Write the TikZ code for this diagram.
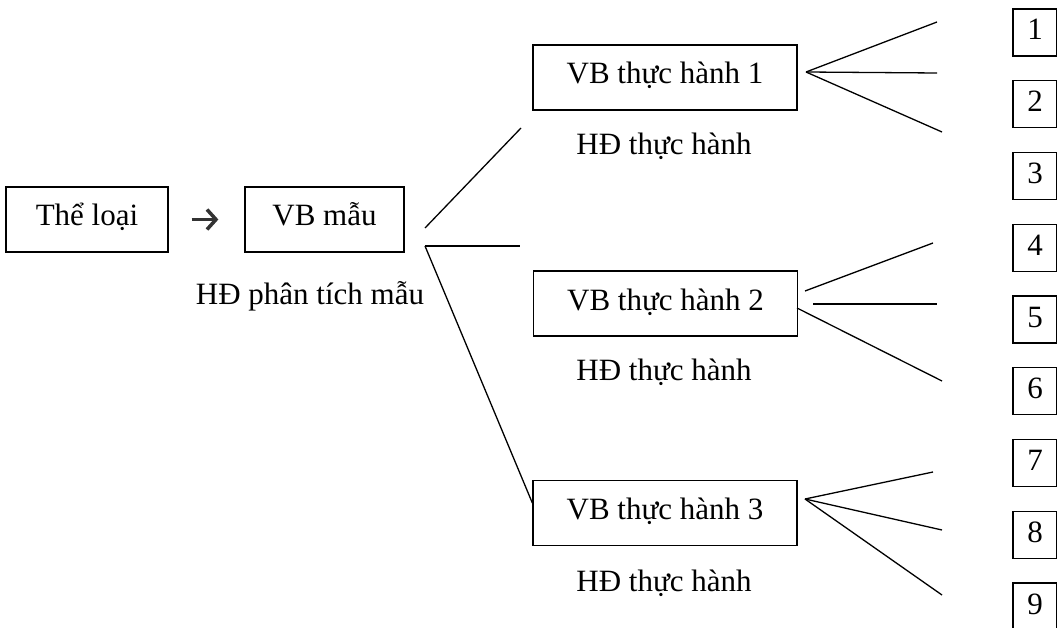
\documentclass[tikz,border=0pt]{standalone}
\usepackage{fontspec}
\setmainfont{Liberation Serif}
\usetikzlibrary{arrows.meta}

\begin{document}
\begin{tikzpicture}[x=1pt,y=-1pt,line width=1.3pt,
        font=\fontsize{31}{37}\selectfont,
        box/.style={draw,minimum height=65pt,inner sep=0pt,text height=21pt,text depth=8pt},
        numbox/.style={draw,minimum width=44pt,minimum height=47pt,inner sep=0pt,text height=21pt,text depth=6pt},
        lbl/.style={anchor=base,inner sep=0pt}]
        \useasboundingbox (0,0) rectangle (1057,628);

        \node[box,minimum width=162pt] (theloai) at (87,219.5) {Thể loại};
        \node[box,minimum width=159pt] (vbmau) at (324.5,219.5) {VB mẫu};
        \node[lbl] (hdmau) at (310,304) {HĐ phân tích mẫu};
        \draw[black!80,line width=3.5pt,-{Straight Barb[length=9pt,width=20pt,line width=3.5pt]},shorten <=23pt,shorten >=26pt] (theloai) -- (vbmau);

        \node[box,minimum width=264pt] (vb1) at (665,77.5) {VB thực hành 1};
        \node[lbl] (hd1) at (664,155) {HĐ thực hành};
        \node[box,minimum width=264pt] (vb2) at (665.5,303.5) {VB thực hành 2};
        \node[lbl] (hd2) at (664,380) {HĐ thực hành};
        \node[box,minimum width=264pt] (vb3) at (665,513) {VB thực hành 3};
        \node[lbl] (hd3) at (664,591) {HĐ thực hành};

        % nhanh tu VB mau
        \coordinate (m1) at (425,228);
        \coordinate (m2) at (425,246);
        \coordinate (t1) at (521,128);
        \coordinate (t2) at (520,246);
        \draw (m1) -- (t1);
        \draw (m2) -- (t2);
        \draw (m2) -- ([yshift=10pt]vb3.west);

        \node[numbox] (n1) at (1035,32.5) {1};
        \node[numbox] (n2) at (1035,104.25) {2};
        \node[numbox] (n3) at (1035,176) {3};
        \node[numbox] (n4) at (1035,247.75) {4};
        \node[numbox] (n5) at (1035,319.5) {5};
        \node[numbox] (n6) at (1035,391.25) {6};
        \node[numbox] (n7) at (1035,463) {7};
        \node[numbox] (n8) at (1035,534.75) {8};
        \node[numbox] (n9) at (1035,606.5) {9};

        % VB thuc hanh 1
        \coordinate (s1) at (806,72);
        \coordinate (e1) at (937,22);
        \coordinate (e2) at (937,73);
        \coordinate (e3) at (942,132);
        \draw (s1) -- (e1);
        \draw (s1) -- (e2);
        \draw (s1) -- (e3);

        % VB thuc hanh 2
        \coordinate (s2a) at (805,291);
        \coordinate (s2b) at (813,304);
        \coordinate (s2c) at (797,308);
        \coordinate (e4) at (933,243);
        \coordinate (e5) at (937,304);
        \coordinate (e6) at (942,381);
        \draw (s2a) -- (e4);
        \draw (s2b) -- (e5);
        \draw (s2c) -- (e6);

        % VB thuc hanh 3
        \coordinate (s3) at (805,499);
        \coordinate (e7) at (933,472);
        \coordinate (e8) at (942,530);
        \coordinate (e9) at (942,595);
        \draw (s3) -- (e7);
        \draw (s3) -- (e8);
        \draw (s3) -- (e9);

    \end{tikzpicture}
\end{document}
